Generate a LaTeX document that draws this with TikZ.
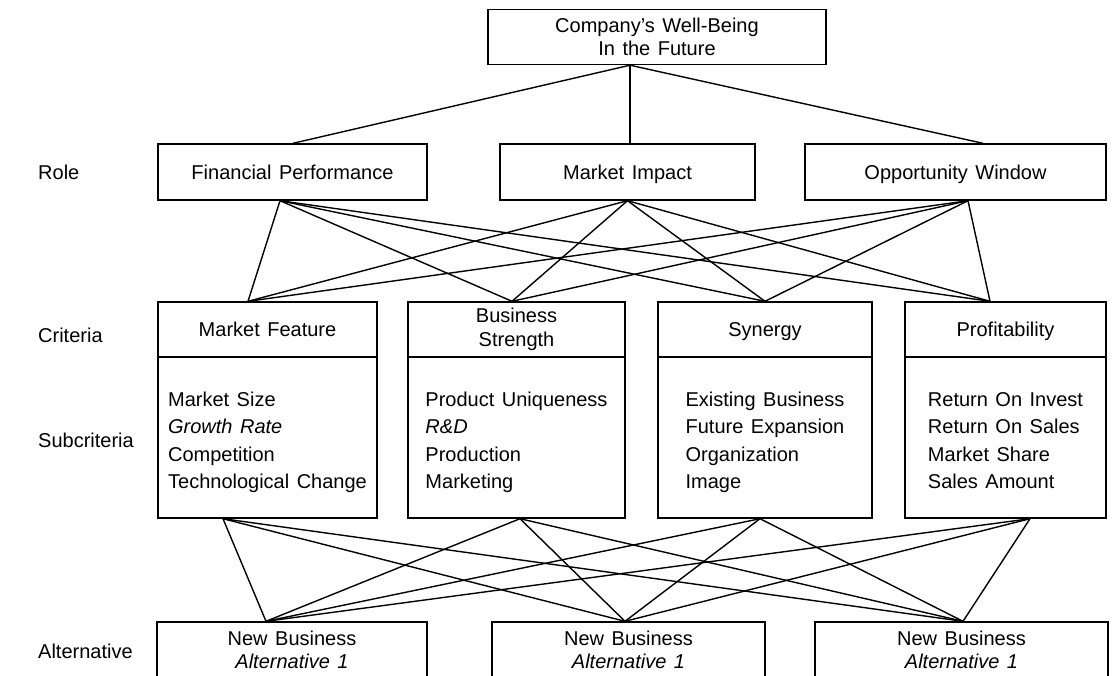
\documentclass[tikz,border=0pt]{standalone}
\usepackage{fontspec}
\setmainfont{Liberation Sans}
\newcommand{\wsp}{\spaceskip=7.5pt plus 1pt minus 1pt\relax}
\newcommand{\topstrut}{\rule{0pt}{25.5pt}}
\newcommand{\botstrut}{\rule[-6pt]{0pt}{6pt}}
\begin{document}
\begin{tikzpicture}[x=1pt,y=-1pt,
  box/.style={draw, line width=1.4pt, inner sep=0pt, align=center,
              font=\fontsize{20}{23.5}\selectfont\wsp},
  oneline/.style={text height=16pt, text depth=2pt},
  body/.style={draw, line width=1.4pt, inner sep=0pt, align=left,
              font=\fontsize{20}{27.5}\selectfont\wsp},
  conn/.style={line width=1.4pt},
  lbl/.style={anchor=west, inner sep=0pt, font=\fontsize{20}{23}\selectfont}]
\useasboundingbox (0,0) rectangle (1114,675);
\clip (0,0) rectangle (1114,675);

% goal
\node[box, minimum width=338pt, minimum height=55pt] (goal) at (657,37)
  {Company's Well-Being\\In the Future};

% roles
\node[box, oneline, minimum width=269pt, minimum height=56pt] (fp) at (292.5,172) {Financial Performance};
\node[box, oneline, minimum width=255pt, minimum height=56pt] (mi) at (627.5,172) {Market Impact};
\node[box, oneline, minimum width=301pt, minimum height=56pt] (ow) at (955.5,172) {Opportunity Window};

% criteria headers
\node[box, oneline, minimum width=219pt, minimum height=55pt] (mf)  at (267.5,329.5) {Market Feature};
\node[box, minimum width=217pt, minimum height=55pt] (bs)  at (516.5,329.5) {Business\\Strength};
\node[box, oneline, minimum width=214pt, minimum height=55pt] (syn) at (765,329.5)   {Synergy};
\node[box, oneline, minimum width=201pt, minimum height=55pt] (pr)  at (1005.5,329.5) {Profitability};

% subcriteria bodies
\node[body, minimum width=219pt, minimum height=161pt] (mfs) at (267.5,437.5)
  {\topstrut Market Size\\\textit{Growth Rate}\\Competition\\Technological Change\botstrut};
\node[body, minimum width=217pt, minimum height=161pt] (bss) at (516.5,437.5)
  {\topstrut Product Uniqueness\\\textit{R\&D}\\Production\\Marketing\botstrut};
\node[body, minimum width=214pt, minimum height=161pt] (syns) at (765,437.5)
  {\topstrut Existing Business\\Future Expansion\\Organization\\Image\botstrut};
\node[body, minimum width=201pt, minimum height=161pt] (prs) at (1005.5,437.5)
  {\topstrut Return On Invest\\Return On Sales\\Market Share\\Sales Amount\botstrut};

% alternatives
\node[box, minimum width=270pt, minimum height=56pt] (a1) at (292,650) {New Business\\\textit{Alternative 1}};
\node[box, minimum width=273pt, minimum height=56pt] (a2) at (628.5,650) {New Business\\\textit{Alternative 1}};
\node[box, minimum width=293pt, minimum height=56pt] (a3) at (961.5,650) {New Business\\\textit{Alternative 1}};

% level labels
\node[lbl] (lrole) at (38,172) {Role};
\node[lbl] (lcrit) at (38,335) {Criteria};
\node[lbl] (lsub)  at (38,440) {Subcriteria};
\node[lbl] (lalt)  at (38,651) {Alternative};

% connection points
\coordinate (gB)  at ([xshift=-27pt]goal.south);
\coordinate (fpT) at ([xshift=0.5pt]fp.north);
\coordinate (miT) at ([xshift=2.5pt]mi.north);
\coordinate (owT) at ([xshift=27.5pt]ow.north);
\coordinate (fpB) at ([xshift=-12.5pt]fp.south);
\coordinate (miB) at (mi.south);
\coordinate (owB) at ([xshift=12.5pt]ow.south);
\coordinate (mfT) at ([xshift=-19.5pt]mf.north);
\coordinate (bsT) at ([xshift=-4.5pt]bs.north);
\coordinate (synT) at (syn.north);
\coordinate (prT) at ([xshift=-15.5pt]pr.north);
\coordinate (mfB) at ([xshift=-44.5pt]mfs.south);
\coordinate (bsB) at ([xshift=3.5pt]bss.south);
\coordinate (synB) at ([xshift=-5pt]syns.south);
\coordinate (prB) at ([xshift=24.5pt]prs.south);
\coordinate (a1T) at ([xshift=-26pt]a1.north);
\coordinate (a2T) at ([xshift=-3.5pt]a2.north);
\coordinate (a3T) at ([xshift=1.5pt]a3.north);

% connectors
\foreach \r in {fpT,miT,owT} \draw[conn] (gB) -- (\r);
\foreach \r in {fpB,miB,owB}
  \foreach \c in {mfT,bsT,synT,prT}
    \draw[conn] (\r) -- (\c);
\foreach \c in {mfB,bsB,synB,prB}
  \foreach \a in {a1T,a2T,a3T}
    \draw[conn] (\c) -- (\a);
\end{tikzpicture}
\end{document}
